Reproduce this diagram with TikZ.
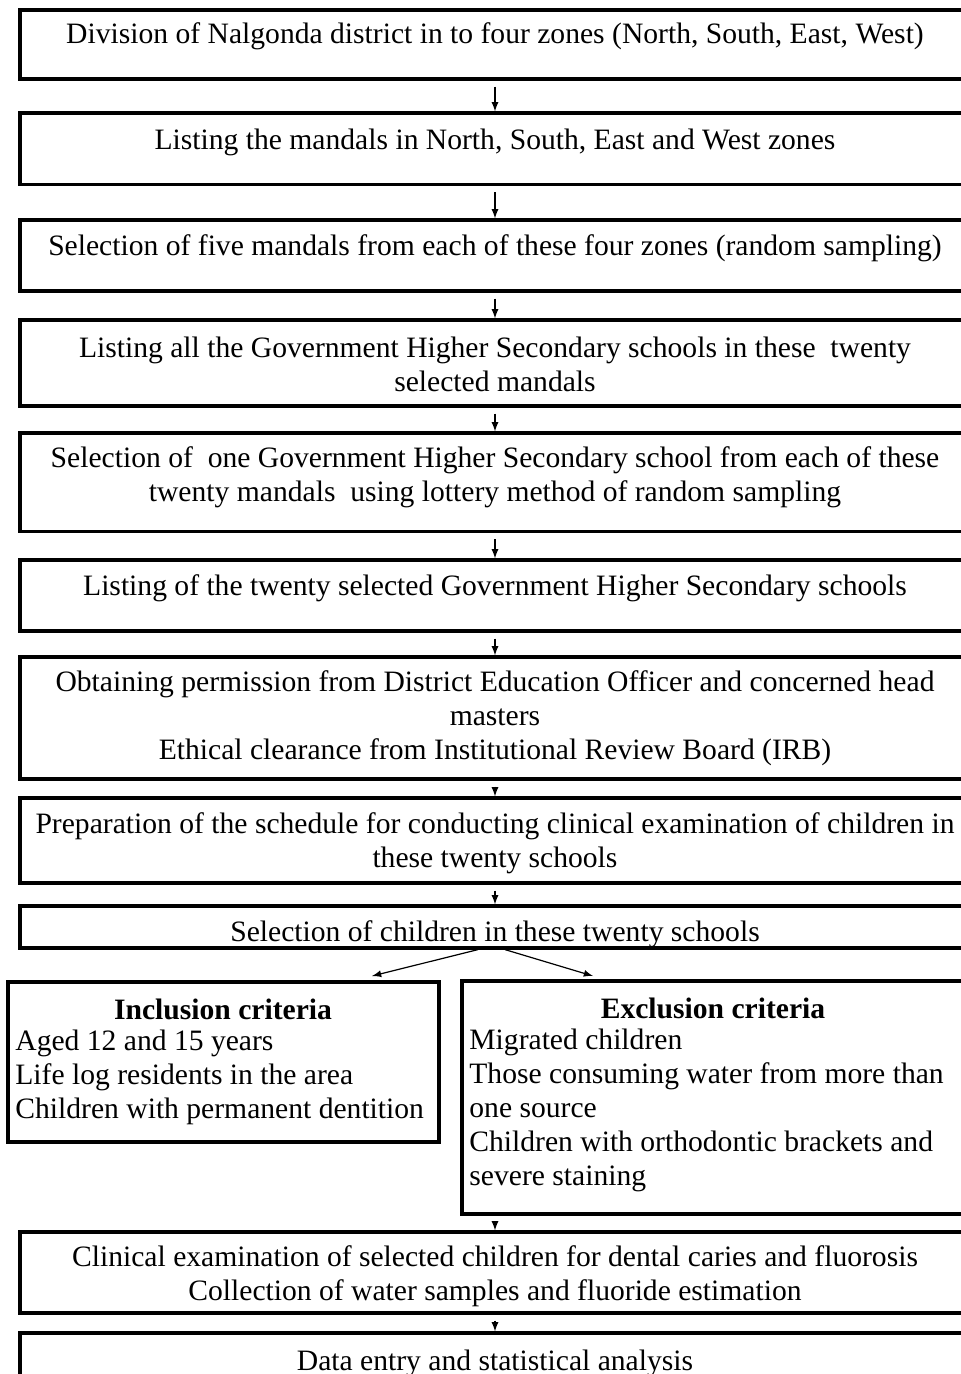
\documentclass[tikz,border=0pt]{standalone}
\usepackage{fontspec}
\setmainfont{Liberation Serif}
\usetikzlibrary{arrows,positioning}

\begin{document}
\begin{tikzpicture}[
			x=0.5pt, y=-0.5pt,
			box/.style={draw=black, line width=1.6pt, inner sep=0pt, minimum width=475pt},
			txt/.style={align=center, inner sep=0pt, font=\fontsize{14.8}{17}\selectfont},
			flow/.style={>=latex, draw=black, line width=0.6pt, ->, shorten <=3pt}
			]
			\useasboundingbox (0,0) rectangle (961,1374);
			\node[box, minimum height=34.5pt] (s1) at (495,44.5) {};
			\node[box, minimum height=35.75pt] (s2) at (495,148.75) {};
			\node[box, minimum height=35.5pt] (s3) at (495,255.5) {};
			\node[box, minimum height=43pt] (s4) at (495,363) {};
			\node[box, minimum height=49.25pt] (s5) at (495,482.25) {};
			\node[box, minimum height=35.5pt] (s6) at (495,595.5) {};
			\node[box, minimum height=61pt] (s7) at (495,718) {};
			\node[box, minimum height=42.5pt] (s8) at (495,840.5) {};
			\node[box, minimum height=21pt] (s9) at (495,927) {};
			\node[box, minimum width=215.5pt, minimum height=80pt] (inc) at (223.5,1062) {};
			\node[box, minimum width=252pt, minimum height=116.5pt] (exc) at (714,1097.5) {};
			\node[box, minimum height=40.5pt] (s10) at (495,1272.5) {};
			\node[box, minimum height=33.5pt] (s11) at (495,1366.5) {};

			\node[txt] (t1) at (495,36.5) {Division of Nalgonda district in to four zones (North, South, East, West)};
			\node[txt] (t2) at (495,142) {Listing the mandals in North, South, East and West zones};
			\node[txt] (t3) at (495,248) {Selection of five mandals from each of these four zones (random sampling)};
			\node[txt] (t4) at (495,364) {Listing all the Government Higher Secondary schools in these~ twenty\\ selected mandals};
			\node[txt] (t5) at (495,477) {Selection of~ one Government Higher Secondary school from each of these\\ twenty mandals~ using lottery method of random sampling};
			\node[txt] (t6) at (495,588) {Listing of the twenty selected Government Higher Secondary schools};
			\node[txt] (t7) at (495,718) {Obtaining permission from District Education Officer and concerned head\\ masters\\ Ethical clearance from Institutional Review Board (IRB)};
			\node[txt] (t8) at (495,843) {Preparation of the schedule for conducting clinical examination of children in\\ these twenty schools};
			\node[txt] (t9) at (495,934) {Selection of children in these twenty schools};
			\node[txt, font=\fontsize{14.8}{17}\selectfont\bfseries] (h1) at (223,1009) {Inclusion criteria};
			\node[txt, align=left, anchor=west] (t12) at (15,1077) {Aged 12 and 15 years\\ Life log residents in the area\\ Children with permanent dentition};
			\node[txt, font=\fontsize{14.8}{17}\selectfont\bfseries] (h2) at (713,1008) {Exclusion criteria};
			\node[txt, align=left, anchor=west] (t13) at (469,1110) {Migrated children\\ Those consuming water from more than\\ one source\\ Children with orthodontic brackets and\\ severe staining};
			\node[txt] (t10) at (495,1276) {Clinical examination of selected children for dental caries and fluorosis\\ Collection of water samples and fluoride estimation};
			\node[txt] (t11) at (495,1363) {Data entry and statistical analysis};

			\coordinate (l1) at (372,976);
			\coordinate (r1) at (593,976);
			\draw[flow] (s1) -- (s2);
			\draw[flow] (s2) -- (s3);
			\draw[flow] (s3) -- (s4);
			\draw[flow] (s4) -- (s5);
			\draw[flow] (s5) -- (s6);
			\draw[flow] (s6) -- (s7);
			\draw[flow] (s7) -- (s8);
			\draw[flow] (s8) -- (s9);
			\draw[flow, shorten <=0pt] ([xshift=-8.5pt]s9.south) -- (l1);
			\draw[flow, shorten <=0pt] ([xshift=5pt]s9.south) -- (r1);
			\draw[flow] (s10.north |- exc.south) -- (s10.north);
			\draw[flow] (s10) -- (s11);
		\end{tikzpicture}
\end{document}
